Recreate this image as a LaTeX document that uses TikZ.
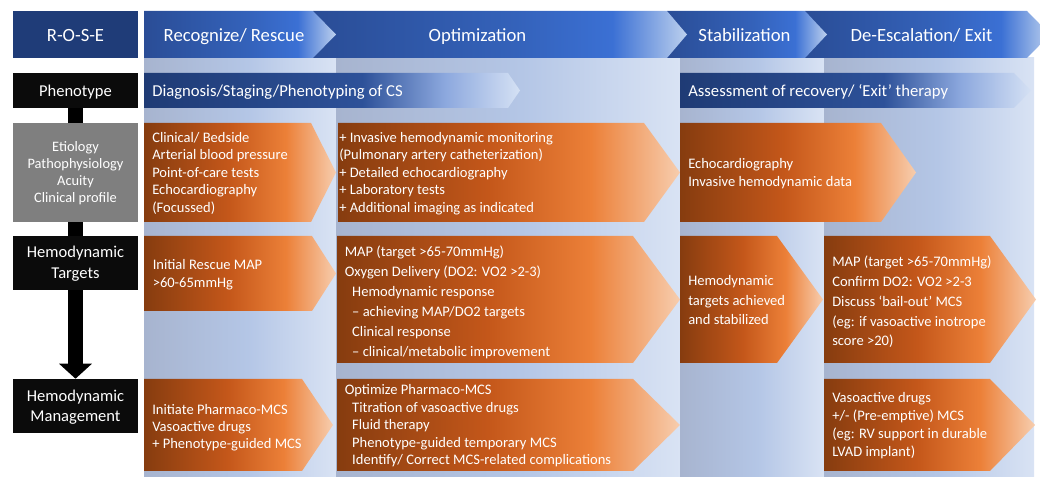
\documentclass[tikz,border=0pt]{standalone}
\usepackage{fontspec}
\setmainfont{Carlito}
\usetikzlibrary{arrows.meta}
\definecolor{rosec}{HTML}{1F3C78}
\definecolor{blackc}{HTML}{0B0B0B}
\definecolor{grayc}{HTML}{7F7F7F}
\definecolor{or1}{HTML}{863C0F}
\definecolor{or2}{HTML}{C4571A}
\definecolor{or3}{HTML}{EC8038}
\definecolor{or4}{HTML}{F7CDAE}
\definecolor{bandA}{HTML}{A7B4CF}
\definecolor{bandB}{HTML}{B4C6E6}
\definecolor{bandC}{HTML}{D9E3F4}
\definecolor{hd1}{HTML}{2A4D96}
\definecolor{hd2}{HTML}{3462BA}
\definecolor{hd3}{HTML}{3B70D4}
\definecolor{hd4}{HTML}{BCD0EE}
\definecolor{ph1}{HTML}{1F3B75}
\definecolor{ph2}{HTML}{2D5199}
\definecolor{ph3}{HTML}{8CA8DE}
\definecolor{ph4}{HTML}{D5E1F4}
\pgfdeclarehorizontalshading{orsh}{100bp}{color(0bp)=(or1); color(25bp)=(or1); color(47bp)=(or2); color(62bp)=(or3); color(75bp)=(or4); color(100bp)=(or4)}
\pgfdeclarehorizontalshading{bandsh}{100bp}{color(0bp)=(bandA); color(25bp)=(bandA); color(52bp)=(bandB); color(75bp)=(bandC); color(100bp)=(bandC)}
\pgfdeclarehorizontalshading{hdrsh}{100bp}{color(0bp)=(hd1); color(25bp)=(hd1); color(52bp)=(hd2); color(65bp)=(hd3); color(75bp)=(hd4); color(100bp)=(hd4)}
\pgfdeclarehorizontalshading{phensh}{100bp}{color(0bp)=(ph1); color(25bp)=(ph1); color(54bp)=(ph2); color(65bp)=(ph3); color(75bp)=(ph4); color(100bp)=(ph4)}
\newcommand{\chev}[6]{\shade[shading=#6] (#1,#2) -- (#3,#2) -- (#4,{(#2+#5)/2}) -- (#3,#5) -- (#1,#5) -- cycle;}
\newcommand{\lblock}[1]{\begin{tabular}[t]{@{}l@{}}#1\end{tabular}}
\newcommand{\cblock}[1]{\begin{tabular}[t]{@{}c@{}}#1\end{tabular}}
\newcommand{\indt}{\hspace*{5.6pt}}
\tikzset{
  body/.style={font=\fontsize{10.9}{#1}\selectfont, text=white, inner sep=0pt, anchor=base west},
  htext/.style={font=\fontsize{14}{16}\selectfont, text=white, inner sep=0pt, anchor=base},
  ptext/.style={font=\fontsize{12.5}{15}\selectfont, text=white, inner sep=0pt, anchor=base west},
  lbox/.style={minimum width=93.75pt, inner sep=0pt, text=white, align=center},
  conn/.style={line width=11.25pt, draw=black}
}
\begin{document}
\begin{tikzpicture}[x=0.75pt,y=-0.75pt]
\useasboundingbox (0,0) rectangle (1040,477);
\clip (0,0) rectangle (1040,477);
% column bands
\shade[shading=bandsh] (144,58) rectangle (336,477);
\shade[shading=bandsh] (336,58) rectangle (680,477);
\shade[shading=bandsh] (680,58) rectangle (824,477);
\shade[shading=bandsh] (824,58) rectangle (1034,477);
% header chevrons
\chev{805}{11}{1027}{1050}{58}{hdrsh}
\chev{667}{11}{805}{827}{58}{hdrsh}
\chev{313}{11}{667}{687}{58}{hdrsh}
\chev{144}{11}{313}{336}{58}{hdrsh}
% phenotype row
\chev{144}{73}{508}{520}{108}{phensh}
\chev{680}{73}{1014}{1031}{108}{phensh}
% row 3
\chev{144}{123}{311}{336}{222}{orsh}
\chev{338}{123}{644}{680}{222}{orsh}
\chev{680}{123}{881}{916}{222}{orsh}
% row 4
\chev{144}{236}{312}{336}{311}{orsh}
\chev{337}{236}{633}{680}{363}{orsh}
\chev{680}{236}{777}{823}{363}{orsh}
\chev{824}{236}{990}{1036}{363}{orsh}
% row 5
\chev{144}{379}{302}{333}{471}{orsh}
\chev{337}{379}{633}{680}{471}{orsh}
\chev{824}{379}{990}{1035}{471}{orsh}
% left column
\node[lbox, fill=rosec, minimum height=35.25pt, text height=10.8pt, text depth=0pt, font=\fontsize{14}{16}\selectfont] (rose) at (75.5,34.5) {R-O-S-E};
\node[lbox, fill=blackc, minimum height=26.25pt, text height=9.3pt, text depth=0pt, font=\fontsize{12.4}{15}\selectfont] (pheno) at (75.5,90.5) {Phenotype};
\node[lbox, fill=grayc, minimum height=74.25pt, text height=0pt, text depth=31.2pt, font=\fontsize{10.8}{12.8}\selectfont] (etio) at (75.5,172.5) {\cblock{Etiology\\Pathophysiology\\Acuity\\Clinical profile}};
\node[lbox, fill=blackc, minimum height=40.5pt, text height=0pt, text depth=8.6pt, font=\fontsize{12.4}{15.75}\selectfont] (targ) at (75.5,263) {\cblock{Hemodynamic\\Targets}};
\node[lbox, fill=blackc, minimum height=40.5pt, text height=0pt, text depth=6.45pt, font=\fontsize{12.4}{15}\selectfont] (mgmt) at (75.5,406) {\cblock{Hemodynamic\\Management}};
\draw[conn] (pheno.south) -- (etio.north);
\draw[conn] (etio.south) -- (targ.north);
\draw[conn, -{Triangle[width=24pt,length=11.25pt]}] (targ.south) -- (mgmt.north);
% header texts
\node[htext] (h1) at (234,41.7) {Recognize/ Rescue};
\node[htext] (h2) at (477.5,41.7) {Optimization};
\node[htext] (h3) at (744.5,41.7) {Stabilization};
\node[htext] (h4) at (921.5,41.7) {De-Escalation/ Exit};
% phenotype row texts
\node[ptext] (d1) at (152,96.7) {Diagnosis/Staging/Phenotyping of CS};
\node[ptext] (d2) at (688,96.7) {Assessment of recovery/ ‘Exit’ therapy};
% row 3 texts
\node[body=13.05] (t31) at (152,142.5) {\lblock{Clinical/ Bedside\\Arterial blood pressure\\Point-of-care tests\\Echocardiography\\(Focussed)}};
\node[body=13.05] (t32) at (339,142.5) {\lblock{+ Invasive hemodynamic monitoring\\(Pulmonary artery catheterization)\\+ Detailed echocardiography\\+ Laboratory tests\\+ Additional imaging as indicated}};
\node[body=13.3] (t33) at (688,169) {\lblock{Echocardiography\\Invasive hemodynamic data}};
% row 4 texts
\node[body=13.5] (t41) at (152.5,270) {\lblock{Initial Rescue MAP\\>60-65mmHg}};
\node[body=14.9] (t42) at (344.5,256.7) {\lblock{MAP (target >65-70mmHg)\\Oxygen Delivery (DO2: VO2 >2-3)\\\indt Hemodynamic response\\\indt – achieving MAP/DO2 targets\\\indt Clinical response\\\indt – clinical/metabolic improvement}};
\node[body=14.6] (t43) at (688,286) {\lblock{Hemodynamic\\targets achieved\\and stabilized}};
\node[body=14.85] (t44) at (832,266.7) {\lblock{MAP (target >65-70mmHg)\\Confirm DO2: VO2 >2-3\\Discuss ‘bail-out’ MCS\\(eg: if vasoactive inotrope\\score >20)}};
% row 5 texts
\node[body=12.75] (t51) at (152,414.3) {\lblock{Initiate Pharmaco-MCS\\Vasoactive drugs\\+ Phenotype-guided MCS}};
\node[body=13.1] (t52) at (344.5,395) {\lblock{Optimize Pharmaco-MCS\\\indt Titration of vasoactive drugs\\\indt Fluid therapy\\\indt Phenotype-guided temporary MCS\\\indt Identify/ Correct MCS-related complications}};
\node[body=13.6] (t54) at (832,402.3) {\lblock{Vasoactive drugs\\+/- (Pre-emptive) MCS\\(eg: RV support in durable\\LVAD implant)}};
\end{tikzpicture}
\end{document}
